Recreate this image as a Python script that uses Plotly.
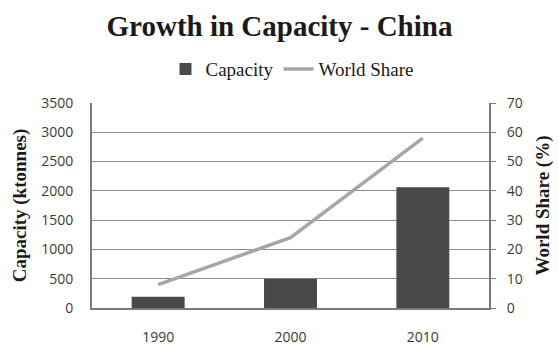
import plotly.graph_objects as go

years = ["1990", "2000", "2010"]
capacity_kt = [190, 500, 2060]
world_share_pct = [8, 24, 58]

bar_color = "#494949"
line_color = "#a6a6a6"
grid_color = "#8c8c8c"
axis_color = "#7a7a7a"
tick_font = dict(family="Open Sans, Liberation Sans, sans-serif", size=14, color="#3a3a3a")
serif = "Liberation Serif, Times New Roman, serif"
title_font = dict(family=serif, size=19, color="#1a1a1a")

fig = go.Figure()
fig.add_trace(go.Bar(
    x=years, y=capacity_kt, name="Capacity",
    marker=dict(color=bar_color, line=dict(width=0)),
    yaxis="y",
))
fig.add_trace(go.Scatter(
    x=years, y=world_share_pct, name="World Share",
    mode="lines", line=dict(color=line_color, width=3.5),
    yaxis="y2",
))

fig.update_layout(
    width=559, height=347,
    margin=dict(l=92, r=70, t=103, b=39, autoexpand=False),
    paper_bgcolor="white", plot_bgcolor="white",
    bargap=0.6,
    showlegend=True,
    title=dict(
        text="<b>Growth in Capacity - China</b>",
        font=dict(family=serif, size=29, color="#1a1a1a"),
        x=0.5, xanchor="center", y=0.925, yanchor="middle",
    ),
    legend=dict(
        orientation="h", x=0.505, xanchor="center", y=1.165, yanchor="middle",
        font=dict(family=serif, size=19, color="#1a1a1a"),
        itemwidth=30, tracegroupgap=0,
    ),
    xaxis=dict(
        type="category", showgrid=False, showline=True, linecolor=axis_color, linewidth=2,
        ticks="", tickfont=tick_font, ticklabelstandoff=15, zeroline=False, automargin=False,
    ),
    yaxis=dict(
        range=[0, 3500], dtick=500, showgrid=True, gridcolor=grid_color, gridwidth=1,
        showline=True, linecolor=axis_color, linewidth=2, ticks="",
        tickfont=tick_font, ticklabelstandoff=14, zeroline=False, automargin=False,
        title=dict(text="<b>Capacity (ktonnes)</b>", font=title_font, standoff=10),
    ),
    yaxis2=dict(
        range=[0, 70], dtick=10, overlaying="y", side="right", showgrid=False,
        showline=True, linecolor=axis_color, linewidth=2, ticks="outside", ticklen=5,
        tickcolor=axis_color, tickfont=tick_font, ticklabelstandoff=8, zeroline=False,
        automargin=False,
        title=dict(text="<b>World Share (%)</b>", font=title_font, standoff=14),
    ),
)

fig.write_html("out.html")
